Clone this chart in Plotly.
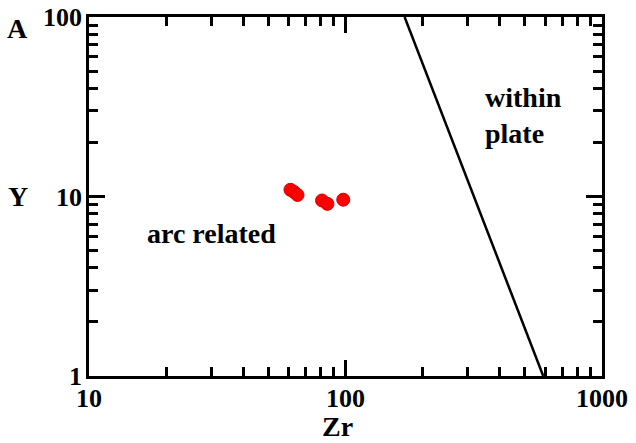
import plotly.graph_objects as go

# Sample compositions (ppm)
zr_samples = [61, 63, 65, 81, 85, 98]
y_samples = [10.9, 10.6, 10.2, 9.5, 9.1, 9.6]

# Boundary between arc-related and within-plate fields
boundary_zr = [170, 590]
boundary_y = [100, 1]

x_major = [10, 100, 1000]
x_minor = [20, 30, 40, 50, 60, 70, 80, 90, 200, 300, 400, 500, 600, 700, 800, 900]
y_major = [1, 10, 100]
y_minor = [2, 3, 4, 5, 6, 7, 8, 9, 20, 30, 40, 50, 60, 70, 80, 90]

FONT = "Liberation Serif"

fig = go.Figure()
fig.add_trace(go.Scatter(
    x=boundary_zr, y=boundary_y, mode="lines",
    line=dict(color="black", width=2.5), hoverinfo="skip", showlegend=False,
))
fig.add_trace(go.Scatter(
    x=zr_samples, y=y_samples, mode="markers",
    marker=dict(color="#ff0000", size=13, line=dict(color="#d40000", width=1)),
    showlegend=False,
))

axis_common = dict(
    type="log", showgrid=False, zeroline=False, automargin=False,
    showline=True, linecolor="black", linewidth=2.5, mirror="ticks",
    ticks="inside", ticklen=16, tickwidth=2.5, tickcolor="black",
    tickfont=dict(family=FONT, size=26, color="black", weight="bold"),
)

fig.update_xaxes(
    range=[1, 3], tickvals=x_major, ticktext=[str(v) for v in x_major],
    minor=dict(tickvals=x_minor, ticks="inside", ticklen=9, tickwidth=2.5, tickcolor="black"),
    ticklabelstandoff=-3,
    **axis_common,
)
fig.update_yaxes(
    range=[0, 2], tickvals=y_major, ticktext=[str(v) for v in y_major],
    minor=dict(tickvals=y_minor, ticks="inside", ticklen=9, tickwidth=2.5, tickcolor="black"),
    ticklabelstandoff=-1,
    **axis_common,
)

label_font = dict(family=FONT, size=28, color="black", weight="bold")


def label(text, x, y, **kw):
    base = dict(text=text, x=x, y=y, xref="paper", yref="paper", showarrow=False,
                xanchor="center", yanchor="middle", font=label_font)
    base.update(kw)
    return base


annotations = [
    label("A", -0.140, 0.969),
    label("Y", -0.138, 0.499),
    label("Zr", 0.485, -0.142),
    label("arc related", 0.238, 0.398),
    label("within<br>plate", 0.768, 0.727, align="left", xanchor="left"),
]

fig.update_layout(
    width=636, height=443,
    margin=dict(l=89, r=34, t=17, b=67),
    paper_bgcolor="white", plot_bgcolor="white",
    annotations=annotations,
)

fig.write_html("out.html")
